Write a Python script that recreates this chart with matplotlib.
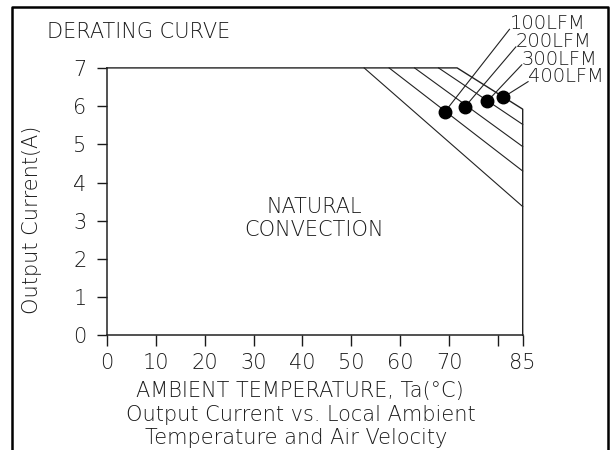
import matplotlib
matplotlib.use("Agg")
import matplotlib.pyplot as plt
from matplotlib.lines import Line2D

# ---- data ----
curve_names = ["NATURAL CONVECTION", "100LFM", "200LFM", "300LFM", "400LFM"]
derate_start_temp = [52.6, 57.7, 62.9, 67.8, 71.6]      # deg C where derating starts (I = 7 A)
current_at_85 = [3.37, 4.30, 4.94, 5.52, 5.92]         # A at 85 deg C
max_current = 7.0
max_temp = 85

marker_temp = [69.1, 73.2, 77.8, 81.0]                 # dots on the 100..400 LFM curves
marker_current = [5.85, 5.98, 6.13, 6.23]
leader_end_temp = [82.3, 83.6, 84.8, 86.1]
leader_end_current = [8.01, 7.55, 7.08, 6.64]

x_ticks = [0, 10, 20, 30, 40, 50, 60, 70, 80, 85]
x_tick_labels = ["0", "10", "20", "30", "40", "50", "60", "70", "", "85"]
y_ticks = [0, 1, 2, 3, 4, 5, 6, 7]

plt.rcParams["font.family"] = ["DejaVu Sans"]
plt.rcParams["font.weight"] = "ultralight"
plt.rcParams["axes.labelweight"] = "ultralight"
FS = 15
TC = "#1a1a1a"

fig = plt.figure(figsize=(6.11, 4.5), dpi=100)
ax = fig.add_axes([106.7 / 611, 1 - 335.3 / 450, 416 / 611, 267.4 / 450])
ax.set_xlim(0, max_temp)
ax.set_ylim(0, max_current)

for s in ("top", "right"):
    ax.spines[s].set_visible(False)
for s in ("left", "bottom"):
    ax.spines[s].set_linewidth(1.1)
    ax.spines[s].set_color("#222222")

ax.set_xticks(x_ticks)
ax.set_xticklabels(x_tick_labels)
ax.set_yticks(y_ticks)
ax.tick_params(axis="x", direction="out", length=8, width=1.0, pad=5,
               labelsize=FS, colors=TC)
ax.tick_params(axis="y", direction="out", length=7.5, width=1.0, pad=7,
               labelsize=FS, colors=TC)

# outer (400 LFM) envelope: flat top, derate, vertical drop at 85 C
ax.plot([0, derate_start_temp[-1], max_temp, max_temp],
        [max_current, max_current, current_at_85[-1], 0],
        color="#222222", lw=1.0, clip_on=False, zorder=3)
# other derating lines
for t0, i85 in zip(derate_start_temp[:-1], current_at_85[:-1]):
    ax.plot([t0, max_temp], [max_current, i85], color="#222222", lw=0.8,
            clip_on=False)

# dots and leaders with labels
for tx, cy, lx, ly, name in zip(marker_temp, marker_current, leader_end_temp,
                                leader_end_current, curve_names[1:]):
    ax.plot([tx, lx], [cy, ly], color="#222222", lw=0.8, clip_on=False)
    ax.plot(tx, cy, "o", color="black", ms=9, clip_on=False, zorder=4)
    ax.text(lx, ly, name, ha="left", va="baseline", fontsize=14,
            color=TC, clip_on=False)

ax.text(42.4, 3.06, "NATURAL\nCONVECTION", ha="center", va="center",
        fontsize=FS, color=TC, linespacing=1.2)

ax.set_ylabel("Output Current(A)", fontsize=FS, color=TC, fontweight="ultralight")
ax.yaxis.label.set_va("center")
ax.yaxis.set_label_coords((31.7 - 106.7) / 416, (335.3 - 220) / 267.4)

fig.text(138.5 / 611, 1 - 32 / 450, "DERATING CURVE", ha="center", va="center",
         fontsize=FS, color=TC)
fig.text(300 / 611, 1 - 391.5 / 450, "AMBIENT TEMPERATURE, Ta(°C)", ha="center",
         va="center", fontsize=FS, color=TC)
fig.text(301 / 611, 1 - 415 / 450, "Output Current vs. Local Ambient", ha="center",
         va="center", fontsize=FS, color=TC)
fig.text(296 / 611, 1 - 438 / 450, "Temperature and Air Velocity", ha="center",
         va="center", fontsize=FS, color=TC)

# page border (open at the bottom)
W, H = 611, 450
fig.add_artist(Line2D([12.3 / W, 12.3 / W, 607.5 / W, 607.5 / W],
                      [0, 1 - 7 / H, 1 - 7 / H, 0],
                      transform=fig.transFigure, color="black", lw=1.8))

fig.savefig("out.png", dpi=100)
